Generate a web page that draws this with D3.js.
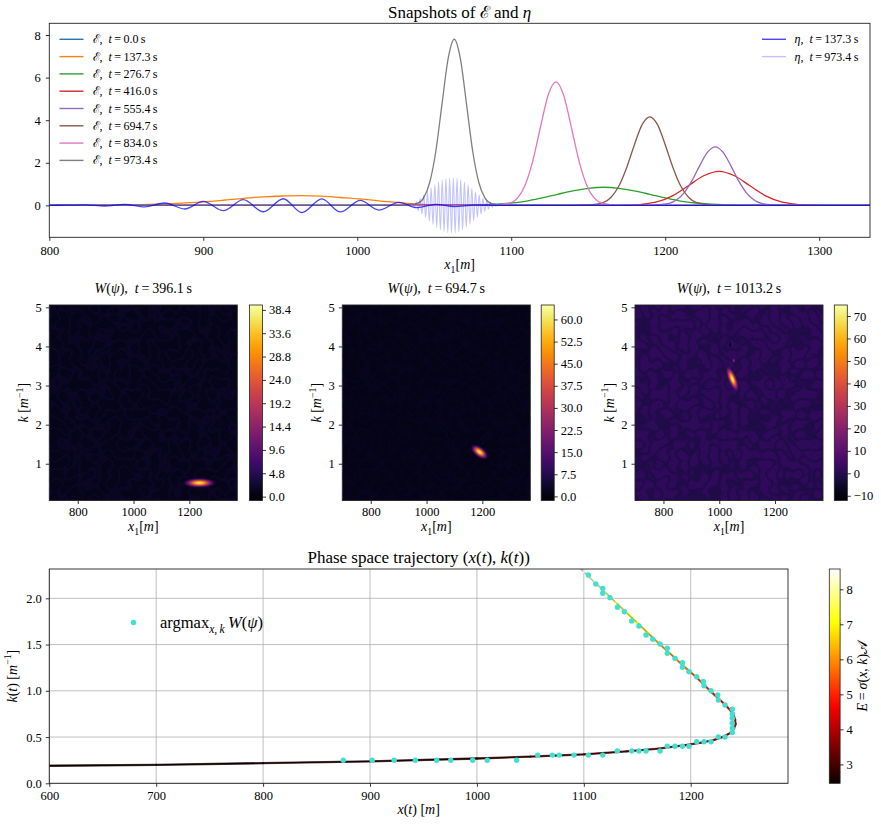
<!DOCTYPE html>
<html>
<head>
<meta charset="utf-8">
<script src="https://cdn.jsdelivr.net/npm/d3@7"></script>
<style>
  body { margin: 0; background: #fff; }
  text { font-family: "Liberation Serif", "DejaVu Serif", serif; }
</style>
</head>
<body>
<svg id="fig" width="881" height="824"></svg>
<script>
// ---------- snapshots of the envelope E(x1) ----------
const snapTimes = [0.0, 137.3, 276.7, 416.0, 555.4, 694.7, 834.0, 973.4];
const envT0 = [[800, 0], [1000, 0], [1200, 0], [1333, 0]];
const envT137 = [[800, 0], [820, 0.003], [840, 0.01], [860, 0.03], [880, 0.08], [900, 0.16], [913, 0.24],
  [926, 0.33], [939, 0.4], [952, 0.44], [964, 0.46], [977, 0.43], [989, 0.37], [1002, 0.3], [1014, 0.21],
  [1026, 0.14], [1039, 0.06], [1052, 0.02], [1070, 0.005], [1090, 0], [1333, 0]];
const envT277 = [[800, 0], [1040, 0], [1070, 0.01], [1090, 0.055], [1100, 0.11], [1110, 0.2], [1120, 0.35],
  [1130, 0.52], [1140, 0.68], [1150, 0.8], [1160, 0.85], [1170, 0.8], [1180, 0.68], [1190, 0.52],
  [1200, 0.35], [1210, 0.2], [1220, 0.11], [1230, 0.055], [1250, 0.01], [1280, 0], [1333, 0]];
const envT416 = [[800, 0], [1170, 0], [1175, 0.01], [1185, 0.05], [1195, 0.17], [1205, 0.46], [1215, 0.92],
  [1225, 1.39], [1235, 1.6], [1245, 1.39], [1255, 0.92], [1265, 0.46], [1275, 0.17], [1285, 0.05],
  [1295, 0.01], [1305, 0], [1333, 0]];
const envT555 = [[800, 0], [1185, 0], [1192.5, 0.01], [1202.5, 0.09], [1207.5, 0.26], [1212.5, 0.61],
  [1217.5, 1.17], [1222.5, 1.88], [1227.5, 2.5], [1232.5, 2.75], [1237.5, 2.5], [1242.5, 1.88],
  [1247.5, 1.17], [1252.5, 0.61], [1257.5, 0.26], [1262.5, 0.09], [1272.5, 0.01], [1285, 0], [1333, 0]];
const envT695 = [[800, 0], [1140, 0], [1150, 0.02], [1160, 0.14], [1165, 0.39], [1170, 0.92], [1175, 1.78],
  [1180, 2.85], [1185, 3.79], [1190, 4.16], [1195, 3.79], [1200, 2.85], [1205, 1.78], [1210, 0.92],
  [1215, 0.39], [1220, 0.14], [1230, 0.01], [1240, 0], [1333, 0]];
const envT834 = [[800, 0], [1085, 0], [1099, 0.1], [1104, 0.34], [1109, 0.95], [1114, 2.09], [1119, 3.68],
  [1124, 5.18], [1129, 5.8], [1134, 5.18], [1139, 3.68], [1144, 2.09], [1149, 0.95], [1154, 0.34],
  [1159, 0.1], [1169, 0], [1333, 0]];
const envT973 = [[800, 0], [1030, 0], [1039, 0.09], [1043, 0.34], [1047, 1.06], [1051, 2.53], [1055, 4.73],
  [1059, 6.88], [1063, 7.8], [1067, 6.88], [1071, 4.73], [1075, 2.53], [1079, 1.06], [1083, 0.34],
  [1087, 0.09], [1095, 0], [1333, 0]];

// ---------- surface elevation eta(x1), crests and troughs ----------
const etaTimes = [137.3, 973.4];
const etaT137 = [[800, 0], [810, 0.01], [823, 0.02], [836, -0.03], [849, 0.05], [862, -0.07], [875, 0.11],
  [888, -0.17], [900, 0.19], [913, -0.25], [926, 0.27], [939, -0.3], [952, 0.31], [964, -0.34], [977, 0.3],
  [989, -0.31], [1002, 0.23], [1014, -0.22], [1027, 0.14], [1039, -0.11], [1051, 0.05], [1063, -0.06],
  [1076, 0.01], [1090, 0], [1333, 0]];
const etaT973 = [[800, 0], [1030, 0], [1036.0, 0.08], [1037.2, -0.12], [1038.4, 0.18], [1039.6, -0.25],
  [1040.8, 0.32], [1042.0, -0.4], [1043.2, 0.48], [1044.4, -0.57], [1045.6, 0.65], [1046.8, -0.74],
  [1048.0, 0.82], [1049.2, -0.9], [1050.4, 0.97], [1051.6, -1.04], [1052.8, 1.1], [1054.0, -1.15],
  [1055.2, 1.2], [1056.4, -1.23], [1057.6, 1.26], [1058.8, -1.28], [1060.0, 1.3], [1061.2, -1.3],
  [1062.4, 1.3], [1063.6, -1.29], [1064.8, 1.27], [1066.0, -1.24], [1067.2, 1.2], [1068.4, -1.15],
  [1069.6, 1.1], [1070.8, -1.03], [1072.0, 0.96], [1073.2, -0.88], [1074.4, 0.8], [1075.6, -0.72],
  [1076.8, 0.64], [1078.0, -0.56], [1079.2, 0.48], [1080.4, -0.41], [1081.6, 0.34], [1082.8, -0.28],
  [1084.0, 0.22], [1085.2, -0.17], [1086.4, 0.13], [1087.6, -0.09], [1088.8, 0.06], [1090.0, -0.04],
  [1091.2, 0.02], [1096, 0], [1333, 0]];

// ---------- Wigner snapshots ----------
const wignerTimes = [396.1, 694.7, 1013.2];
const wignerLimits = [[-0.8, 39.4], [-1.4, 64.9], [-12.1, 74.9]];
const wignerTicks396 = [0, 4.8, 9.6, 14.4, 19.2, 24.0, 28.8, 33.6, 38.4];
const wignerTicks695 = [0, 7.5, 15, 22.5, 30, 37.5, 45, 52.5, 60];
const wignerTicks1013 = [-10, 0, 10, 20, 30, 40, 50, 60, 70];
const wignerFloor = [1.0, 1.2, 1.8];
// peaks: centre (x, k), value, half extent of the long axis (dx, dk), width ratio
const blobs396 = [{x: 1236, k: 0.51, v: 38.4, dx: 48, dk: 0, w: 0.3}];
const blobs695 = [{x: 1190, k: 1.30, v: 64, dx: 24, dk: -0.13, w: 0.5}];
const blobs1013 = [
  {x: 1047, k: 3.17, v: 74, dx: 14, dk: -0.25, w: 0.32},
  {x: 1052, k: 3.64, v: 22, dx: 2, dk: -0.05, w: 0.7},
  {x: 1039, k: 4.04, v: -11, dx: 0, dk: 0.08, w: 0.4}];
const streaks1013 = [{x: 1003, v: -3, dx: 8}, {x: 1030, v: -2, dx: 5}, {x: 1064, v: -2, dx: 6}];

// ---------- phase space trajectory ----------
const trajX = [600, 700, 800, 900, 1000, 1050, 1100, 1140, 1170, 1195, 1210, 1222, 1231, 1237, 1240.5,
  1242, 1241.5, 1240, 1237, 1233, 1227.5, 1220, 1212, 1204, 1196, 1188, 1180, 1170, 1160, 1150, 1140,
  1130, 1120, 1110, 1100, 1096];
const trajK = [0.19, 0.2, 0.218, 0.238, 0.268, 0.288, 0.312, 0.345, 0.375, 0.412, 0.44, 0.47, 0.505, 0.545,
  0.59, 0.64, 0.69, 0.74, 0.79, 0.84, 0.9, 0.98, 1.07, 1.16, 1.24, 1.325, 1.41, 1.515, 1.625, 1.735, 1.845,
  1.955, 2.065, 2.175, 2.285, 2.33];
const trajE = [2.5, 2.55, 2.6, 2.7, 2.8, 2.9, 3.0, 3.15, 3.3, 3.45, 3.55, 3.65, 3.75, 3.85, 3.95, 4.05, 4.15,
  4.3, 4.45, 4.6, 4.8, 5.0, 5.25, 5.5, 5.75, 5.95, 6.15, 6.4, 6.7, 7.0, 7.3, 7.6, 7.9, 8.2, 8.45, 8.55];
const argmaxX = [875, 902, 922.6, 942.4, 962.4, 975.5, 996, 1009.7, 1037.2, 1056.9, 1070.5, 1077, 1090.8,
  1104.2, 1117.7, 1131.3, 1144.8, 1151.6, 1158.2, 1171.3, 1178.1, 1185.3, 1192.2, 1198.4, 1205.6, 1212.4,
  1219, 1225.8, 1232.1, 1238.9, 1238.9, 1238.9, 1238.9, 1238.9, 1238.9, 1232.1, 1225.8, 1225.3, 1219,
  1212.4, 1211.8, 1205.6, 1198.4, 1192.2, 1192.2, 1185.3, 1178.1, 1178.1, 1171.3, 1164.5, 1158.2, 1151.6,
  1144.8, 1137.9, 1131.4, 1124.5, 1117.7, 1117.7, 1111.2, 1104.2];
const argmaxK = [0.25, 0.25, 0.25, 0.25, 0.25, 0.25, 0.25, 0.25, 0.25, 0.305, 0.305, 0.305, 0.305, 0.305,
  0.305, 0.35, 0.35, 0.35, 0.35, 0.35, 0.4, 0.4, 0.4, 0.4, 0.45, 0.45, 0.45, 0.5, 0.5, 0.548, 0.595, 0.649,
  0.703, 0.749, 0.8, 0.846, 0.9, 0.955, 1.0, 1.055, 1.1, 1.152, 1.206, 1.254, 1.304, 1.351, 1.405, 1.46,
  1.506, 1.557, 1.603, 1.7, 1.755, 1.855, 1.903, 2.007, 2.054, 2.108, 2.155, 2.252];
const energyLimits = [2.46, 8.58];
const energyTicks = [3, 4, 5, 6, 7, 8];

// ---------- styles ----------
const tab10 = ['#1f77b4', '#ff7f0e', '#2ca02c', '#d62728', '#9467bd', '#8c564b', '#e377c2', '#7f7f7f'];
const SERIF = '"Liberation Serif", "DejaVu Serif", serif';
const frameColor = '#222';
const fmtInt = d3.format('d');

const svg = d3.select('#fig');
const defs = svg.append('defs');

// text with italic / sub / superscript pieces
function rich(sel, parts, size) {
  let shift = 0;
  parts.forEach(([s, kind]) => {
    const ts = sel.append('tspan').text(s);
    if (kind.includes('i')) ts.attr('font-style', 'italic');
    let target = 0;
    if (kind[0] === 'b') target = size * 0.28;
    if (kind[0] === 'p') target = -size * 0.4;
    if (target !== 0) ts.attr('font-size', size * 0.7);
    if (target !== shift) { ts.attr('dy', target - shift); shift = target; }
  });
  return sel;
}
function label(parent, x, y, size, parts, anchor, rotate) {
  const t = parent.append('text')
    .attr('font-size', size)
    .attr('text-anchor', anchor || 'middle');
  if (rotate) t.attr('transform', `translate(${x},${y}) rotate(${rotate})`);
  else t.attr('x', x).attr('y', y);
  return rich(t, parts, size);
}
function styleAxis(g, size) {
  g.attr('font-family', SERIF).attr('font-size', size || 12.5);
  g.select('.domain').remove();
  g.selectAll('.tick line').attr('stroke', '#000').attr('stroke-width', 0.8);
  g.selectAll('.tick text').attr('fill', '#000');
}
function frame(parent, l, t, w, h) {
  parent.append('rect').attr('x', l).attr('y', t).attr('width', w).attr('height', h)
    .attr('fill', 'none').attr('stroke', frameColor).attr('stroke-width', 0.9);
}
function clipRect(id, l, t, w, h) {
  defs.append('clipPath').attr('id', id).append('rect')
    .attr('x', l).attr('y', t).attr('width', w).attr('height', h);
  return `url(#${id})`;
}

// ============ top panel: snapshots ============
const topBox = {l: 49.3, r: 870, t: 23.3, b: 237.3};
const xTop = d3.scaleLinear().domain([800, 1333]).range([topBox.l, topBox.r]);
const yTop = d3.scaleLinear().domain([-1.5, 8.55]).range([topBox.b, topBox.t]);
const gTop = svg.append('g');
const plotTop = gTop.append('g')
  .attr('clip-path', clipRect('clipTop', topBox.l, topBox.t, topBox.r - topBox.l, topBox.b - topBox.t));

const lineTop = d3.line().x(d => xTop(d[0])).y(d => yTop(d[1])).curve(d3.curveMonotoneX);
const envSeries = [envT0, envT137, envT277, envT416, envT555, envT695, envT834, envT973];
envSeries.forEach((s, i) => {
  plotTop.append('path').attr('d', lineTop(s))
    .attr('fill', 'none').attr('stroke', tab10[i]).attr('stroke-width', 1.3);
});
const etaSeries = [etaT137, etaT973];
const etaOpacity = [0.72, 0.24];
etaSeries.forEach((s, i) => {
  plotTop.append('path').attr('d', lineTop(s))
    .attr('fill', 'none').attr('stroke', 'blue').attr('stroke-opacity', etaOpacity[i])
    .attr('stroke-width', i === 0 ? 1.3 : 1.1);
});

gTop.append('g').attr('transform', `translate(0,${topBox.b})`)
  .call(d3.axisBottom(xTop).tickValues([800, 900, 1000, 1100, 1200, 1300]).tickFormat(fmtInt)
    .tickSize(3.5).tickPadding(5))
  .call(g => styleAxis(g));
gTop.append('g').attr('transform', `translate(${topBox.l},0)`)
  .call(d3.axisLeft(yTop).tickValues([0, 2, 4, 6, 8]).tickFormat(fmtInt).tickSize(3.5).tickPadding(5))
  .call(g => styleAxis(g));
frame(gTop, topBox.l, topBox.t, topBox.r - topBox.l, topBox.b - topBox.t);

label(gTop, (topBox.l + topBox.r) / 2, 18, 17,
  [['Snapshots of ', 'r'], ['ℰ', 'r'], [' and ', 'r'], ['η', 'i']]);
label(gTop, (topBox.l + topBox.r) / 2, 269, 14,
  [['x', 'i'], ['1', 'b'], ['[', 'r'], ['m', 'i'], [']', 'r']]);

// legends
const fmt1 = d3.format('.1f');
snapTimes.forEach((t, i) => {
  const y = 39.3 + i * 17.3;
  gTop.append('line').attr('x1', 59.5).attr('x2', 83.5).attr('y1', y).attr('y2', y)
    .attr('stroke', tab10[i]).attr('stroke-width', 1.4);
  label(gTop, 92.5, y + 4, 12,
    [['ℰ', 'r'], [',\u2002', 'r'], ['t', 'i'], ['\u2009=\u2009' + fmt1(t) + '\u2009s', 'r']], 'start');
});
etaTimes.forEach((t, i) => {
  const y = 39.3 + i * 17.3;
  gTop.append('line').attr('x1', 762).attr('x2', 786).attr('y1', y).attr('y2', y)
    .attr('stroke', 'blue').attr('stroke-opacity', etaOpacity[i]).attr('stroke-width', 1.4);
  label(gTop, 794.5, y + 4, 12,
    [['η', 'i'], [',\u2002', 'r'], ['t', 'i'], ['\u2009=\u2009' + fmt1(t) + '\u2009s', 'r']], 'start');
});

// ============ middle panels: Wigner functions ============
const wignerLefts = [49.3, 342.3, 635];
const barLefts = [249.5, 541.2, 834.3];
const wBox = {w: 188, t: 305, b: 500.5};
const wignerBlobs = [blobs396, blobs695, blobs1013];
const wignerStreaks = [[], [], streaks1013];
const wignerTickSets = [wignerTicks396, wignerTicks695, wignerTicks1013];
const wignerFormats = [d3.format('.1f'), d3.format('.1f'), d3.format('d')];

wignerTimes.forEach((time, p) => {
  const l = wignerLefts[p];
  const g = svg.append('g');
  const x = d3.scaleLinear().domain([698, 1372]).range([l, l + wBox.w]);
  const y = d3.scaleLinear().domain([0.06, 5.06]).range([wBox.b, wBox.t]);
  const [lo, hi] = wignerLimits[p];
  const cnorm = d3.scaleLinear().domain([lo, hi]).range([0, 1]).clamp(true);
  const color = v => d3.interpolateInferno(cnorm(v));
  const floor = wignerFloor[p];

  const plot = g.append('g').attr('clip-path', clipRect('clipW' + p, l, wBox.t, wBox.w, wBox.b - wBox.t));
  plot.append('rect').attr('x', l).attr('y', wBox.t).attr('width', wBox.w).attr('height', wBox.b - wBox.t)
    .attr('fill', color(floor));

  // faint interference texture (thin wiggly ridges)
  const tex = d3.rgb(color(p === 2 ? floor - 4 : floor + 1.2));
  const f = defs.append('filter').attr('id', 'tex' + p)
    .attr('x', 0).attr('y', 0).attr('width', 1).attr('height', 1)
    .attr('color-interpolation-filters', 'sRGB');
  f.append('feTurbulence').attr('type', 'turbulence').attr('baseFrequency', 0.1)
    .attr('numOctaves', 1).attr('seed', 3 + p * 5);
  f.append('feColorMatrix').attr('type', 'matrix')
    .attr('values', `0 0 0 0 ${tex.r / 255}  0 0 0 0 ${tex.g / 255}  0 0 0 0 ${tex.b / 255}  -8 0 0 0 1.5`);
  plot.append('rect').attr('x', l).attr('y', wBox.t).attr('width', wBox.w).attr('height', wBox.b - wBox.t)
    .attr('filter', `url(#tex${p})`).attr('opacity', p === 2 ? 0.75 : 0.6);

  wignerStreaks[p].forEach((s, j) => {
    const gid = `streak${p}_${j}`;
    const lg = defs.append('linearGradient').attr('id', gid);
    [[0, 0], [0.5, 0.4], [1, 0]].forEach(([o, a]) =>
      lg.append('stop').attr('offset', o).attr('stop-color', color(s.v)).attr('stop-opacity', a));
    plot.append('rect').attr('x', x(s.x - s.dx)).attr('y', wBox.t)
      .attr('width', x(s.x + s.dx) - x(s.x - s.dx)).attr('height', wBox.b - wBox.t)
      .attr('fill', `url(#${gid})`);
  });

  wignerBlobs[p].forEach((b, j) => {
    const gid = `blob${p}_${j}`;
    const rg = defs.append('radialGradient').attr('id', gid);
    [[0, 1, 1], [0.25, 0.8, 1], [0.5, 0.45, 1], [0.75, 0.15, 0.9], [1, 0, 0]].forEach(([o, fr, a]) =>
      rg.append('stop').attr('offset', o).attr('stop-color', color(floor + fr * (b.v - floor)))
        .attr('stop-opacity', a));
    const cx = x(b.x), cy = y(b.k);
    const vx = x(b.x + b.dx) - cx, vy = y(b.k + b.dk) - cy;
    const len = Math.hypot(vx, vy) * 1.35;
    const ang = Math.atan2(vy, vx) * 180 / Math.PI;
    plot.append('ellipse').attr('transform', `translate(${cx},${cy}) rotate(${ang})`)
      .attr('rx', len).attr('ry', len * b.w).attr('fill', `url(#${gid})`);
  });

  g.append('g').attr('transform', `translate(0,${wBox.b})`)
    .call(d3.axisBottom(x).tickValues([800, 1000, 1200]).tickFormat(fmtInt).tickSize(3.5).tickPadding(3))
    .call(a => styleAxis(a));
  g.append('g').attr('transform', `translate(${l},0)`)
    .call(d3.axisLeft(y).tickValues([1, 2, 3, 4, 5]).tickFormat(fmtInt).tickSize(3.5).tickPadding(4))
    .call(a => styleAxis(a));
  frame(g, l, wBox.t, wBox.w, wBox.b - wBox.t);

  label(g, l + wBox.w / 2, 293, 14,
    [['W', 'i'], ['(', 'r'], ['ψ', 'i'], ['),\u2002', 'r'], ['t', 'i'],
     ['\u2009=\u2009' + fmt1(time) + '\u2009s', 'r']]);
  label(g, l + wBox.w / 2, 531, 14, [['x', 'i'], ['1', 'b'], ['[', 'r'], ['m', 'i'], [']', 'r']]);
  label(g, l - 21, (wBox.t + wBox.b) / 2, 14,
    [['k', 'i'], [' [', 'r'], ['m', 'i'], ['−1', 'p'], [']', 'r']], 'middle', -90);

  // colorbar
  const bl = barLefts[p], bw = 13;
  const cid = 'cbar' + p;
  const cg = defs.append('linearGradient').attr('id', cid)
    .attr('x1', 0).attr('y1', 1).attr('x2', 0).attr('y2', 0);
  d3.range(0, 1.0001, 0.05).forEach(o =>
    cg.append('stop').attr('offset', o).attr('stop-color', d3.interpolateInferno(o)));
  g.append('rect').attr('x', bl).attr('y', wBox.t).attr('width', bw).attr('height', wBox.b - wBox.t)
    .attr('fill', `url(#${cid})`).attr('stroke', frameColor).attr('stroke-width', 0.8);
  const cy = d3.scaleLinear().domain([lo, hi]).range([wBox.b, wBox.t]);
  g.append('g').attr('transform', `translate(${bl + bw},0)`)
    .call(d3.axisRight(cy).tickValues(wignerTickSets[p]).tickFormat(wignerFormats[p]).tickSize(3.5).tickPadding(3))
    .call(a => styleAxis(a));
});

// ============ bottom panel: phase space trajectory ============
const bBox = {l: 49.3, r: 788, t: 569, b: 783.3};
const xB = d3.scaleLinear().domain([600, 1291]).range([bBox.l, bBox.r]);
const yB = d3.scaleLinear().domain([0, 2.317]).range([bBox.b, bBox.t]);
const gB = svg.append('g');
const hot = d3.scaleLinear().domain([0, 0.365, 0.746, 1])
  .range(['#0b0000', '#ff0000', '#ffff00', '#ffffff']).clamp(true);
const eNorm = d3.scaleLinear().domain(energyLimits).range([0, 1]);
const energyColor = v => hot(eNorm(v));

const xTicksB = [600, 700, 800, 900, 1000, 1100, 1200];
const yTicksB = [0, 0.5, 1.0, 1.5, 2.0];
const gridB = gB.append('g');
xTicksB.forEach(v => gridB.append('line').attr('x1', xB(v)).attr('x2', xB(v))
  .attr('y1', bBox.t).attr('y2', bBox.b).attr('stroke', '#b0b0b0').attr('stroke-width', 0.8));
yTicksB.forEach(v => gridB.append('line').attr('y1', yB(v)).attr('y2', yB(v))
  .attr('x1', bBox.l).attr('x2', bBox.r).attr('stroke', '#b0b0b0').attr('stroke-width', 0.8));

const plotB = gB.append('g')
  .attr('clip-path', clipRect('clipB', bBox.l, bBox.t, bBox.r - bBox.l, bBox.b - bBox.t));
const traj = trajX.map((v, i) => ({x: v, k: trajK[i], e: trajE[i]}));
plotB.append('path').datum(traj)
  .attr('d', d3.line().x(d => xB(d.x)).y(d => yB(d.k)))
  .attr('fill', 'none').attr('stroke', '#000').attr('stroke-width', 1.3).attr('stroke-linejoin', 'round');
d3.pairs(traj).forEach(([a, b]) => {
  plotB.append('line').attr('x1', xB(a.x)).attr('y1', yB(a.k)).attr('x2', xB(b.x)).attr('y2', yB(b.k))
    .attr('stroke', energyColor((a.e + b.e) / 2)).attr('stroke-width', 2.3)
    .attr('stroke-opacity', 0.72).attr('stroke-linecap', 'round');
});
plotB.selectAll('circle.pt').data(argmaxX.map((v, i) => [v, argmaxK[i]])).join('circle')
  .attr('class', 'pt').attr('cx', d => xB(d[0])).attr('cy', d => yB(d[1])).attr('r', 2.7)
  .attr('fill', '#40e0d0');

gB.append('g').attr('transform', `translate(0,${bBox.b})`)
  .call(d3.axisBottom(xB).tickValues(xTicksB).tickFormat(fmtInt).tickSize(3.5).tickPadding(4))
  .call(a => styleAxis(a));
gB.append('g').attr('transform', `translate(${bBox.l},0)`)
  .call(d3.axisLeft(yB).tickValues(yTicksB).tickFormat(d3.format('.1f')).tickSize(3.5).tickPadding(4))
  .call(a => styleAxis(a));
frame(gB, bBox.l, bBox.t, bBox.r - bBox.l, bBox.b - bBox.t);

label(gB, (bBox.l + bBox.r) / 2, 563, 17,
  [['Phase space trajectory ', 'r'], ['(', 'r'], ['x', 'i'], ['(', 'r'], ['t', 'i'], ['), ', 'r'],
   ['k', 'i'], ['(', 'r'], ['t', 'i'], ['))', 'r']]);
label(gB, (bBox.l + bBox.r) / 2, 814, 14,
  [['x', 'i'], ['(', 'r'], ['t', 'i'], [') [', 'r'], ['m', 'i'], [']', 'r']]);
label(gB, 17, (bBox.t + bBox.b) / 2, 14,
  [['k', 'i'], ['(', 'r'], ['t', 'i'], [') [', 'r'], ['m', 'i'], ['−1', 'p'], [']', 'r']], 'middle', -90);

// legend
gB.append('circle').attr('cx', 133.5).attr('cy', 622.5).attr('r', 2.7).attr('fill', '#40e0d0');
label(gB, 160, 628, 16.5,
  [['argmax', 'r'], ['x,\u2009k', 'bi'], ['\u2009W', 'i'], ['(', 'r'], ['ψ', 'i'], [')', 'r']], 'start');

// energy colorbar
const ebl = 829.3, ebw = 10.8;
const eg = defs.append('linearGradient').attr('id', 'ebar')
  .attr('x1', 0).attr('y1', 1).attr('x2', 0).attr('y2', 0);
d3.range(0, 1.0001, 0.05).forEach(o => eg.append('stop').attr('offset', o).attr('stop-color', hot(o)));
gB.append('rect').attr('x', ebl).attr('y', bBox.t).attr('width', ebw).attr('height', bBox.b - bBox.t)
  .attr('fill', 'url(#ebar)').attr('stroke', frameColor).attr('stroke-width', 0.8);
const ey = d3.scaleLinear().domain(energyLimits).range([bBox.b, bBox.t]);
gB.append('g').attr('transform', `translate(${ebl + ebw},0)`)
  .call(d3.axisRight(ey).tickValues(energyTicks).tickFormat(fmtInt).tickSize(3.5).tickPadding(3))
  .call(a => styleAxis(a));
label(gB, 867, (bBox.t + bBox.b) / 2, 14,
  [['E', 'i'], ['\u2009=\u2009', 'r'], ['σ', 'i'], ['(', 'r'], ['x', 'i'], [', ', 'r'], ['k', 'i'],
   [')', 'r'], ['𝒜', 'r']], 'middle', -90);
</script>
</body>
</html>
